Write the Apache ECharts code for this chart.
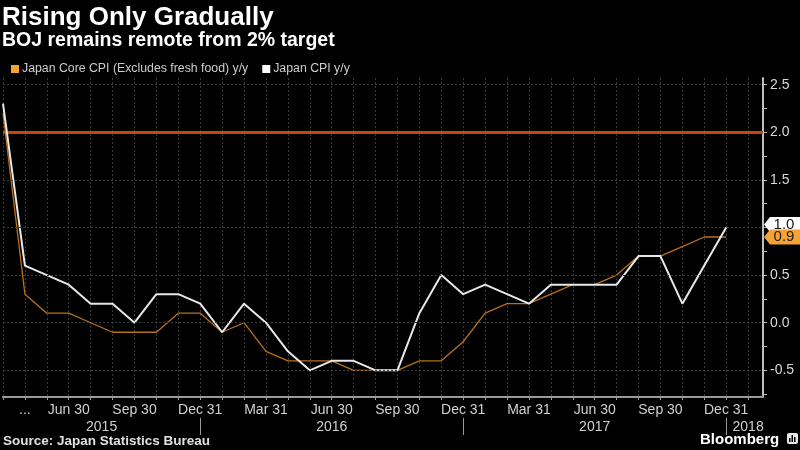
<!DOCTYPE html>
<html>
<head>
<meta charset="utf-8">
<script src="https://cdn.jsdelivr.net/npm/echarts@6/dist/echarts.min.js"></script>
<style>
html,body{margin:0;padding:0;background:#000;}
#chart{width:800px;height:450px;}
</style>
</head>
<body>
<div id="chart"></div>
<script>
// Monthly observations, Mar 2015 .. Dec 2017
const months = ['2015-03','2015-04','2015-05','2015-06','2015-07','2015-08','2015-09','2015-10','2015-11','2015-12',
  '2016-01','2016-02','2016-03','2016-04','2016-05','2016-06','2016-07','2016-08','2016-09','2016-10','2016-11','2016-12',
  '2017-01','2017-02','2017-03','2017-04','2017-05','2017-06','2017-07','2017-08','2017-09','2017-10','2017-11','2017-12'];
const coreCPI = [2.2,0.3,0.1,0.1,0.0,-0.1,-0.1,-0.1,0.1,0.1,-0.1,0.0,-0.3,-0.4,-0.4,-0.4,-0.5,-0.5,-0.5,-0.4,-0.4,-0.2,0.1,0.2,0.2,0.3,0.4,0.4,0.5,0.7,0.7,0.8,0.9,0.9];
const cpi = [2.3,0.6,0.5,0.4,0.2,0.2,0.0,0.3,0.3,0.2,-0.1,0.2,0.0,-0.3,-0.5,-0.4,-0.4,-0.5,-0.5,0.1,0.5,0.3,0.4,0.3,0.2,0.4,0.4,0.4,0.4,0.7,0.7,0.2,0.6,1.0];
const target = 2.0;

// Tick labels
const monthTickIndex = [1,3,6,9,12,15,18,21,24,27,30,33];
const monthTickText = ['...','Jun 30','Sep 30','Dec 31','Mar 31','Jun 30','Sep 30','Dec 31','Mar 31','Jun 30','Sep 30','Dec 31'];
const yearLabelPos = [4.5,15,27,34];
const yearLabelText = ['2015','2016','2017','2018'];
const yearSeparators = [9,21,33];
const yLabelValues = [-0.5,0,0.5,1.0,1.5,2.0,2.5];
const yTickValues = [-0.75,-0.5,-0.25,0,0.25,0.5,0.75,1.0,1.25,1.5,1.75,2.0,2.25,2.5];
const gridLineValues = [-0.5,0,0.5,1.0,1.5,2.5];

const X_MAX = 34.68;
const FONT = 'Liberation Sans';

const chart = echarts.init(document.getElementById('chart'));
const tagPath = 'path://M0,7.5L6,0L36,0L36,15L6,15Z';
const option = {
  backgroundColor:'#000',
  animation:false,
  textStyle:{fontFamily:FONT},
  title:[
    {text:'Rising Only Gradually', left:2, top:5, padding:0, textStyle:{color:'#fff', fontSize:26, fontWeight:'bold', fontFamily:FONT}},
    {text:'BOJ remains remote from 2% target', left:2, top:31, padding:0, textStyle:{color:'#fff', fontSize:19.5, fontWeight:'bold', fontFamily:FONT}},
    {text:'Source: Japan Statistics Bureau', left:3, top:434, padding:0, textStyle:{color:'#e0e0e0', fontSize:13.5, fontWeight:'bold', fontFamily:FONT}},
    {text:'Bloomberg', left:700, top:432, padding:0, textStyle:{color:'#fff', fontSize:15, fontWeight:'bold', fontFamily:FONT}}
  ],
  legend:{
    left:6, top:58, itemWidth:8, itemHeight:8, itemGap:14, icon:'rect',
    textStyle:{color:'#cccccc', fontSize:12.3, fontFamily:FONT, padding:[0,0,0,-2]},
    data:[
      {name:'Japan Core CPI (Excludes fresh food) y/y', itemStyle:{color:'#f5a233'}},
      {name:'Japan CPI y/y', itemStyle:{color:'#ffffff'}}
    ]
  },
  grid:{left:0, right:37, top:78, bottom:53},
  xAxis:[{
    type:'value', min:0, max:X_MAX, interval:1,
    axisLine:{show:true, onZero:false, lineStyle:{color:'#9a9a9a', width:2}},
    axisTick:{show:true, length:3, lineStyle:{color:'#9a9a9a'}},
    axisLabel:{color:'#d0d0d0', fontSize:14, margin:6, fontFamily:FONT, showMaxLabel:false,
      formatter:function(v){const k=monthTickIndex.indexOf(Math.round(v)); return (k>=0 && Math.abs(v-Math.round(v))<1e-6)?monthTickText[k]:'';}},
    splitLine:{show:true, lineStyle:{color:'#3a3a3a', type:[2,2]}}
  },{
    type:'value', min:0, max:X_MAX, position:'bottom', offset:21,
    axisLine:{show:false, onZero:false},
    axisTick:{show:true, customValues:yearSeparators, length:17, lineStyle:{color:'#9a9a9a'}},
    axisLabel:{customValues:yearLabelPos, color:'#d0d0d0', fontSize:14, margin:2, fontFamily:FONT,
      formatter:function(v){const k=yearLabelPos.indexOf(v); return k>=0?yearLabelText[k]:'';}},
    splitLine:{show:false}
  }],
  yAxis:{
    type:'value', position:'right', min:-0.78, max:2.57,
    axisLine:{show:true, onZero:false, lineStyle:{color:'#bdbdbd', width:2}},
    axisTick:{show:true, customValues:yTickValues, length:4, lineStyle:{color:'#bdbdbd'}},
    axisLabel:{customValues:yLabelValues, color:'#d8d8d8', fontSize:14, margin:7, fontFamily:FONT,
      formatter:function(v){return v.toFixed(1);}},
    splitLine:{show:false}
  },
  series:[
    {
      name:'grid', type:'line', data:[], z:1, silent:true,
      markLine:{silent:true, symbol:'none', label:{show:false},
        lineStyle:{color:'#3a3a3a', type:[2,2], width:1},
        data:gridLineValues.map(v=>({yAxis:v}))}
    },
    {
      name:'Japan Core CPI (Excludes fresh food) y/y', type:'line', z:3,
      data:coreCPI.map((v,i)=>[i,v]),
      showSymbol:false, symbol:'none',
      lineStyle:{color:'#b8701e', width:1.3},
      itemStyle:{color:'#f5a233'},
      markLine:{silent:true, symbol:'none', label:{show:false}, z:2,
        lineStyle:{color:'#c9460b', type:'solid', width:3},
        data:[{yAxis:target}]},
      markPoint:{z:20, silent:true,
        symbol:tagPath, symbolSize:[36,15], symbolOffset:[19,0], symbolKeepAspect:false,
        itemStyle:{color:'#f5a233'},
        label:{show:true, position:'inside', color:'#1a1a1a', fontSize:15, fontFamily:FONT, offset:[2,0],
          formatter:function(p){return Number(p.value).toFixed(1);}},
        data:[{coord:[X_MAX, coreCPI[coreCPI.length-1]], value:coreCPI[coreCPI.length-1]}]}
    },
    {
      name:'Japan CPI y/y', type:'line', z:4,
      data:cpi.map((v,i)=>[i,v]),
      showSymbol:false, symbol:'none',
      lineStyle:{color:'#e8e8e8', width:2},
      itemStyle:{color:'#ffffff'},
      markPoint:{z:15, silent:true,
        symbol:tagPath, symbolSize:[36,15], symbolOffset:[19,-3], symbolKeepAspect:false,
        itemStyle:{color:'#ffffff'},
        label:{show:true, position:'inside', color:'#1a1a1a', fontSize:15, fontFamily:FONT, offset:[2,0],
          formatter:function(p){return Number(p.value).toFixed(1);}},
        data:[{coord:[X_MAX, cpi[cpi.length-1]], value:cpi[cpi.length-1]}]}
    }
  ],
  graphic:[
    {type:'group', left:787, top:433, children:[
      {type:'rect', shape:{x:0,y:0,width:11,height:11,r:2}, style:{fill:'#e8e8e8'}},
      {type:'rect', shape:{x:2,y:5,width:1.5,height:4}, style:{fill:'#000'}},
      {type:'rect', shape:{x:4.5,y:2,width:1.5,height:7}, style:{fill:'#000'}},
      {type:'rect', shape:{x:7,y:4,width:1.5,height:5}, style:{fill:'#000'}}
    ]}
  ]
};
chart.setOption(option);
</script>
</body>
</html>
